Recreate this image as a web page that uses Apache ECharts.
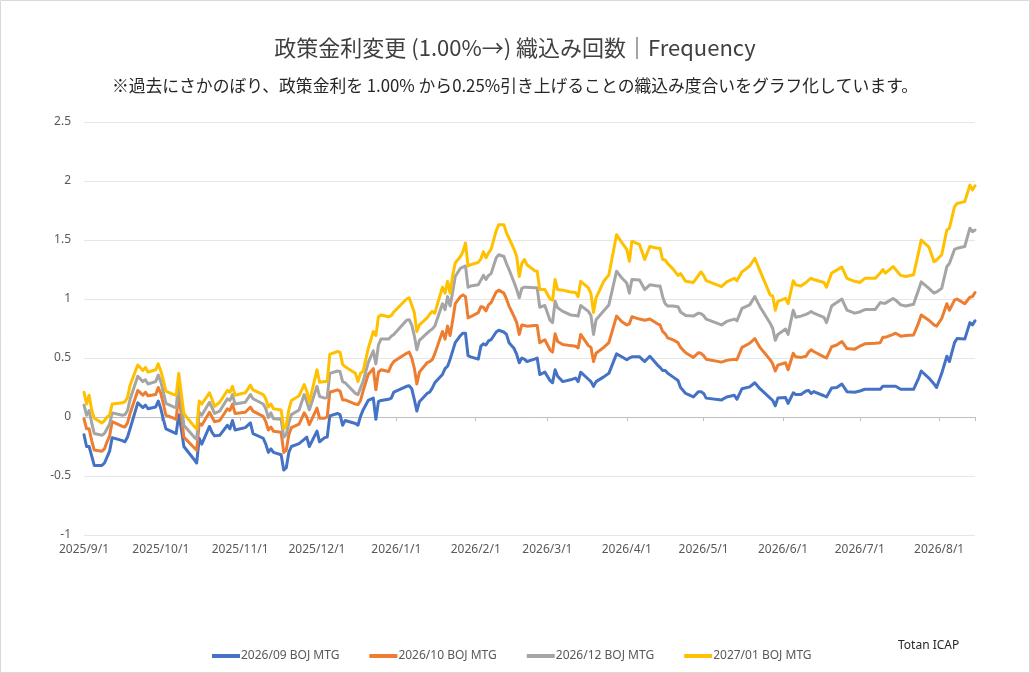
<!DOCTYPE html>
<html><head><meta charset="utf-8">
<script src="https://cdn.jsdelivr.net/npm/echarts@6/dist/echarts.min.js"></script>
<style>html,body{margin:0;padding:0;background:#fff}#c{width:1030px;height:673px}</style>
</head><body><div id="c"></div>
<script>
const dates = ['2025-09-01','2025-09-02','2025-09-03','2025-09-04','2025-09-05','2025-09-08','2025-09-09','2025-09-10','2025-09-11','2025-09-12',
'2025-09-16','2025-09-17','2025-09-18','2025-09-19','2025-09-22','2025-09-24','2025-09-25','2025-09-26','2025-09-29','2025-09-30',
'2025-10-01','2025-10-02','2025-10-03','2025-10-06','2025-10-07','2025-10-08','2025-10-09','2025-10-10','2025-10-14','2025-10-15',
'2025-10-16','2025-10-17','2025-10-20','2025-10-21','2025-10-22','2025-10-24','2025-10-27','2025-10-28','2025-10-29','2025-10-30',
'2025-11-03','2025-11-05','2025-11-06','2025-11-10','2025-11-11','2025-11-12','2025-11-13','2025-11-14','2025-11-17','2025-11-18',
'2025-11-19','2025-11-20','2025-11-21','2025-11-24','2025-11-26','2025-11-27','2025-11-28','2025-12-01','2025-12-02','2025-12-04',
'2025-12-05','2025-12-06','2025-12-09','2025-12-10','2025-12-11','2025-12-12','2025-12-16','2025-12-17','2025-12-18','2025-12-19',
'2025-12-21','2025-12-23','2025-12-24','2025-12-25','2025-12-26','2025-12-29','2025-12-30','2025-12-31','2026-01-05','2026-01-06',
'2026-01-07','2026-01-08','2026-01-09','2026-01-10','2026-01-13','2026-01-14','2026-01-15','2026-01-16','2026-01-19','2026-01-20',
'2026-01-21','2026-01-22','2026-01-23','2026-01-24','2026-01-26','2026-01-27','2026-01-28','2026-01-29','2026-01-30','2026-02-02',
'2026-02-03','2026-02-04','2026-02-05','2026-02-06','2026-02-07','2026-02-09','2026-02-10','2026-02-12','2026-02-13','2026-02-14',
'2026-02-16','2026-02-17','2026-02-18','2026-02-19','2026-02-20','2026-02-21','2026-02-24','2026-02-25','2026-02-26','2026-02-28',
'2026-03-02','2026-03-03','2026-03-04','2026-03-05','2026-03-07','2026-03-10','2026-03-12','2026-03-13','2026-03-14','2026-03-17',
'2026-03-18','2026-03-19','2026-03-20','2026-03-23','2026-03-25','2026-03-28','2026-03-30','2026-04-01','2026-04-02','2026-04-03',
'2026-04-06','2026-04-08','2026-04-10','2026-04-13','2026-04-14','2026-04-15','2026-04-16','2026-04-17','2026-04-19','2026-04-21',
'2026-04-22','2026-04-24','2026-04-27','2026-04-29','2026-04-30','2026-05-01','2026-05-02','2026-05-08','2026-05-10','2026-05-13',
'2026-05-14','2026-05-16','2026-05-19','2026-05-21','2026-05-23','2026-05-27','2026-05-28','2026-05-29','2026-05-30','2026-06-02',
'2026-06-03','2026-06-05','2026-06-06','2026-06-08','2026-06-10','2026-06-11','2026-06-12','2026-06-13','2026-06-17','2026-06-18',
'2026-06-20','2026-06-22','2026-06-24','2026-06-26','2026-06-29','2026-07-01','2026-07-03','2026-07-07','2026-07-09','2026-07-10',
'2026-07-11','2026-07-14','2026-07-15','2026-07-17','2026-07-19','2026-07-22','2026-07-24','2026-07-25','2026-07-28','2026-07-30',
'2026-07-31','2026-08-02','2026-08-04','2026-08-05','2026-08-07','2026-08-08','2026-08-11','2026-08-13','2026-08-14','2026-08-15'];

const mtg2609 = [-0.15,-0.25,-0.25,-0.33,-0.41,-0.41,-0.39,-0.34,-0.29,-0.175,
-0.20,-0.21,-0.17,-0.10,0.12,0.08,0.10,0.07,0.085,0.135,
0.07,-0.02,-0.10,-0.13,-0.14,0.02,-0.10,-0.25,-0.36,-0.39,
-0.18,-0.23,-0.08,-0.13,-0.16,-0.155,-0.07,-0.10,-0.03,-0.11,
-0.09,-0.05,-0.14,-0.18,-0.23,-0.30,-0.27,-0.30,-0.32,-0.45,
-0.43,-0.30,-0.25,-0.225,-0.19,-0.17,-0.25,-0.12,-0.21,-0.175,
-0.17,0.01,0.03,0.02,-0.07,-0.03,-0.055,-0.07,0.005,0.06,
0.14,0.16,-0.02,0.13,0.14,0.15,0.16,0.21,0.26,0.265,
0.24,0.15,0.05,0.13,0.20,0.21,0.245,0.29,0.36,0.41,
0.43,0.49,0.56,0.63,0.69,0.71,0.71,0.52,0.51,0.49,
0.60,0.62,0.61,0.645,0.655,0.72,0.735,0.72,0.70,0.63,
0.58,0.53,0.46,0.50,0.49,0.47,0.49,0.50,0.36,0.38,
0.31,0.29,0.40,0.345,0.30,0.315,0.33,0.30,0.38,0.32,
0.30,0.26,0.30,0.34,0.37,0.535,0.51,0.485,0.50,0.51,
0.51,0.47,0.515,0.44,0.42,0.395,0.395,0.37,0.34,0.31,
0.25,0.20,0.17,0.215,0.215,0.20,0.16,0.145,0.17,0.185,
0.15,0.24,0.255,0.29,0.24,0.16,0.14,0.095,0.16,0.165,
0.115,0.205,0.19,0.19,0.22,0.225,0.20,0.215,0.18,0.17,
0.245,0.25,0.28,0.215,0.21,0.22,0.235,0.235,0.235,0.26,
0.26,0.26,0.26,0.235,0.235,0.235,0.33,0.39,0.33,0.28,
0.25,0.37,0.515,0.47,0.63,0.665,0.66,0.80,0.78,0.815];

const mtg2610 = [-0.015,-0.10,-0.10,-0.20,-0.28,-0.29,-0.27,-0.21,-0.16,-0.04,
-0.08,-0.085,-0.05,0.03,0.225,0.185,0.21,0.18,0.19,0.25,
0.20,0.11,0.015,-0.01,-0.02,0.20,0.02,-0.17,-0.26,-0.28,
-0.055,-0.07,0.04,0.00,-0.04,-0.03,0.07,0.055,0.11,0.03,
0.04,0.085,0.05,0.005,-0.04,-0.11,-0.085,-0.12,-0.13,-0.30,
-0.28,-0.15,-0.09,-0.06,0.035,0.00,-0.065,0.075,-0.01,-0.01,
0.00,0.21,0.23,0.22,0.145,0.145,0.11,0.105,0.14,0.22,
0.36,0.41,0.23,0.38,0.40,0.385,0.44,0.47,0.54,0.55,
0.50,0.415,0.28,0.38,0.46,0.47,0.485,0.535,0.725,0.66,
0.77,0.69,0.82,0.96,1.02,1.035,1.02,0.84,0.85,0.885,
0.935,0.93,0.90,0.95,0.97,1.06,1.075,1.05,1.00,0.94,
0.85,0.80,0.70,0.78,0.775,0.77,0.775,0.775,0.63,0.655,
0.57,0.55,0.705,0.64,0.615,0.605,0.60,0.585,0.70,0.605,
0.59,0.47,0.54,0.59,0.63,0.855,0.81,0.78,0.79,0.85,
0.83,0.82,0.83,0.79,0.78,0.725,0.705,0.67,0.655,0.63,
0.59,0.545,0.505,0.545,0.54,0.52,0.49,0.465,0.48,0.49,
0.485,0.59,0.625,0.665,0.59,0.485,0.45,0.39,0.44,0.46,
0.40,0.54,0.51,0.505,0.515,0.55,0.57,0.555,0.51,0.50,
0.595,0.61,0.64,0.58,0.575,0.60,0.62,0.625,0.63,0.675,
0.675,0.70,0.71,0.685,0.69,0.695,0.80,0.865,0.82,0.78,
0.77,0.835,0.96,0.905,0.99,1.00,0.96,1.015,1.02,1.055];

const mtg2612 = [0.10,0.015,0.055,-0.05,-0.14,-0.155,-0.14,-0.10,-0.06,0.035,
0.015,0.02,0.055,0.15,0.345,0.30,0.315,0.28,0.30,0.355,
0.30,0.21,0.115,0.085,0.08,0.30,0.12,-0.07,-0.17,-0.19,
0.04,0.015,0.125,0.08,0.03,0.05,0.155,0.14,0.19,0.11,
0.125,0.19,0.155,0.11,0.07,-0.005,0.035,-0.015,-0.02,-0.17,
-0.15,-0.05,0.02,0.06,0.19,0.13,0.06,0.26,0.175,0.16,
0.165,0.37,0.39,0.385,0.30,0.29,0.20,0.19,0.245,0.30,
0.46,0.56,0.45,0.61,0.66,0.66,0.685,0.70,0.82,0.825,
0.78,0.69,0.57,0.65,0.71,0.73,0.745,0.77,0.96,0.91,
1.02,0.94,1.06,1.19,1.26,1.27,1.28,1.10,1.11,1.12,
1.16,1.20,1.165,1.20,1.215,1.35,1.375,1.36,1.30,1.25,
1.14,1.08,1.01,1.09,1.10,1.10,1.095,1.095,0.93,0.945,
0.82,0.80,0.98,0.925,0.895,0.865,0.86,0.855,0.945,0.895,
0.86,0.70,0.825,0.90,0.95,1.235,1.18,1.135,1.05,1.165,
1.16,1.08,1.12,1.11,1.11,1.02,0.96,0.94,0.94,0.935,
0.89,0.86,0.855,0.88,0.875,0.86,0.83,0.78,0.81,0.83,
0.815,0.92,0.95,1.02,0.935,0.795,0.75,0.65,0.70,0.745,
0.70,0.905,0.845,0.855,0.87,0.88,0.895,0.88,0.845,0.80,
0.94,0.97,1.00,0.905,0.88,0.89,0.91,0.91,0.97,0.965,
0.965,1.005,0.99,0.95,0.94,0.955,1.08,1.145,1.09,1.05,
1.06,1.09,1.275,1.30,1.42,1.43,1.445,1.60,1.57,1.585];

const mtg2701 = [0.21,0.11,0.185,0.06,-0.01,-0.05,-0.03,0.00,0.015,0.11,
0.12,0.13,0.165,0.27,0.44,0.395,0.42,0.38,0.40,0.45,
0.39,0.31,0.22,0.19,0.185,0.37,0.20,0.03,-0.08,-0.10,
0.135,0.11,0.205,0.15,0.09,0.125,0.225,0.21,0.26,0.185,
0.205,0.27,0.23,0.19,0.155,0.085,0.11,0.07,0.06,-0.10,
-0.07,0.06,0.14,0.18,0.275,0.22,0.125,0.40,0.295,0.30,
0.30,0.53,0.555,0.55,0.445,0.425,0.37,0.30,0.37,0.385,
0.58,0.725,0.69,0.85,0.865,0.85,0.86,0.89,1.00,1.01,
0.95,0.885,0.725,0.78,0.84,0.87,0.895,0.88,1.10,1.05,
1.15,1.05,1.20,1.305,1.36,1.40,1.475,1.28,1.29,1.31,
1.34,1.40,1.35,1.39,1.42,1.58,1.63,1.63,1.56,1.515,
1.42,1.36,1.19,1.30,1.335,1.29,1.24,1.235,1.08,1.08,
1.00,0.99,1.165,1.08,1.075,1.06,1.055,1.02,1.15,1.095,
1.045,0.885,1.01,1.15,1.205,1.545,1.48,1.42,1.32,1.49,
1.46,1.335,1.445,1.43,1.43,1.335,1.33,1.30,1.255,1.20,
1.215,1.15,1.14,1.20,1.23,1.20,1.155,1.105,1.145,1.175,
1.155,1.23,1.28,1.345,1.24,1.035,1.025,0.905,0.98,1.005,
0.96,1.155,1.12,1.11,1.14,1.16,1.175,1.165,1.14,1.10,
1.22,1.245,1.27,1.175,1.15,1.14,1.175,1.175,1.22,1.25,
1.22,1.275,1.25,1.20,1.19,1.205,1.40,1.50,1.44,1.315,
1.33,1.375,1.585,1.60,1.78,1.81,1.825,1.965,1.925,1.96];

const seriesNames = ['2026/09 BOJ MTG','2026/10 BOJ MTG','2026/12 BOJ MTG','2027/01 BOJ MTG'];
const seriesValues = [mtg2609, mtg2610, mtg2612, mtg2701];
const seriesColors = ['#4472C4','#ED7D31','#A5A5A5','#FFC000'];
const titleText = '政策金利変更 (1.00%→) 織込み回数｜Frequency';
const subtitleText = '※過去にさかのぼり、政策金利を 1.00% から0.25%引き上げることの織込み度合いをグラフ化しています。';
const sourceText = 'Totan ICAP';
const xMin = '2025-09-01', xMax = '2026-08-15';
const yMin = -1, yMax = 2.5, yStep = 0.5;

const chart = echarts.init(document.getElementById('c'));
const fmtDate = v => { const d = new Date(v); return d.getDate() === 1 ? (d.getFullYear() + '/' + (d.getMonth() + 1) + '/' + d.getDate()) : ''; };

chart.setOption({
  animation: false,
  backgroundColor: '#fff',
  title: [
    { text: titleText, left: 'center', top: 32, textStyle: { fontFamily: 'Noto Sans CJK JP', fontSize: 22, fontWeight: 'normal', color: '#404040' } },
    { text: subtitleText, left: 'center', top: 72, textStyle: { fontFamily: 'Noto Sans CJK JP', fontSize: 16.8, fontWeight: 'normal', color: '#262626' } }
  ],
  legend: {
    left: 207, top: 645, icon: 'rect', itemWidth: 28, itemHeight: 4, itemGap: 30,
    textStyle: { fontFamily: 'Noto Sans', fontSize: 12, color: '#595959', padding: [0, 0, 0, -4] },
    data: seriesNames
  },
  graphic: [
    { type: 'rect', silent: true, shape: { x: 0.5, y: 0.5, width: 1029, height: 672 }, style: { fill: 'none', stroke: '#D9D9D9', lineWidth: 1 } },
    { type: 'text', left: 898, top: 640, silent: true, style: { text: sourceText, fontFamily: 'Noto Sans', fontSize: 12, fill: '#262626' } }
  ],
  grid: { left: 84, right: 55, top: 122, bottom: 138, containLabel: false },
  xAxis: [
    { type: 'time', min: xMin, max: xMax, splitNumber: 12,
      axisLine: { show: false, onZero: false }, axisTick: { show: false }, splitLine: { show: false },
      axisLabel: { formatter: fmtDate, fontFamily: 'Noto Sans', fontSize: 12, color: '#595959', margin: 9, showMinLabel: true, showMaxLabel: false, hideOverlap: false } },
    { type: 'time', min: xMin, max: xMax, splitNumber: 12, position: 'bottom',
      axisLine: { show: true, onZero: true, lineStyle: { color: '#BFBFBF', width: 1 } },
      axisTick: { show: true, length: 4, lineStyle: { color: '#BFBFBF' } },
      axisLabel: { show: false }, splitLine: { show: false } }
  ],
  yAxis: {
    type: 'value', min: yMin, max: yMax, interval: yStep,
    axisLine: { show: false }, axisTick: { show: false },
    axisLabel: { fontFamily: 'Noto Sans', fontSize: 12, color: '#595959', margin: 13 },
    splitLine: { lineStyle: { color: '#E6E6E6', width: 1 } }
  },
  series: seriesNames.map((name, i) => ({
    name, type: 'line', xAxisIndex: 0, showSymbol: false, symbol: 'none',
    data: dates.map((d, j) => [d, seriesValues[i][j]]),
    lineStyle: { color: seriesColors[i], width: 3, cap: 'round', join: 'round' },
    itemStyle: { color: seriesColors[i] }
  }))
});
</script></body></html>
